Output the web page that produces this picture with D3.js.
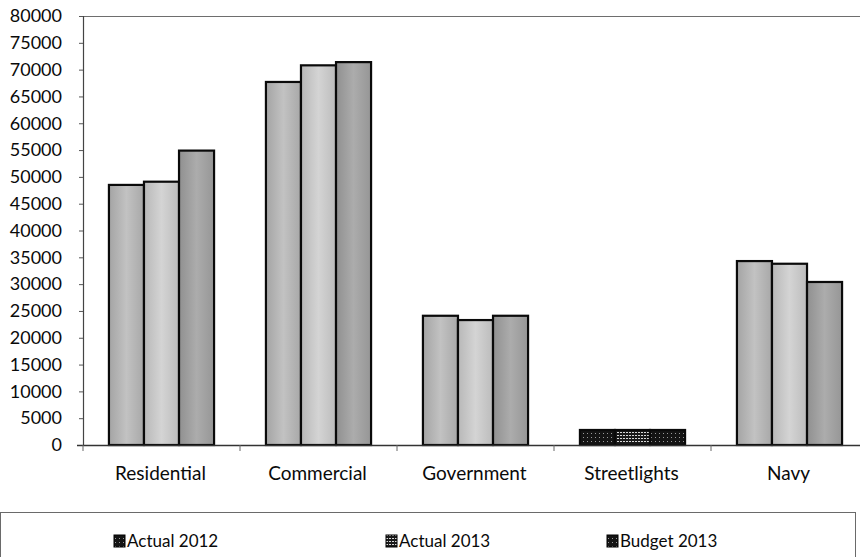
<!DOCTYPE html>
<html>
<head>
<meta charset="utf-8">
<script src="https://cdn.jsdelivr.net/npm/d3@7"></script>
<style>
  html, body { margin: 0; padding: 0; background: #fff; }
  svg { display: block; font-family: Lato, "Open Sans", sans-serif; }
</style>
</head>
<body>
<svg id="chart" width="860" height="557"></svg>
<script>
// Electricity sales by customer class
const categories = ["Residential", "Commercial", "Government", "Streetlights", "Navy"];
const seriesNames = ["Actual 2012", "Actual 2013", "Budget 2013"];
const actual2012 = [48500, 67700, 24100, 2800, 34300];
const actual2013 = [49100, 70800, 23300, 2800, 33800];
const budget2013 = [54900, 71400, 24100, 2800, 30400];
const yTicks = [0, 5000, 10000, 15000, 20000, 25000, 30000, 35000, 40000,
                45000, 50000, 55000, 60000, 65000, 70000, 75000, 80000];

const seriesValues = [actual2012, actual2013, budget2013];

const svg = d3.select("#chart");
const plot = { left: 83, right: 868, top: 16, bottom: 445 };
const fontFamily = "Lato, 'Open Sans', sans-serif";

const defs = svg.append("defs");
// soft horizontal shading for each series
const shades = [
  ["#a4a4a4", "#c2c2c2", "#a8a8a8"],
  ["#b8b8b8", "#d4d4d4", "#bcbcbc"],
  ["#909090", "#acacac", "#969696"]
];
shades.forEach((s, i) => {
  const g = defs.append("linearGradient").attr("id", "grad" + i)
    .attr("x1", "0").attr("x2", "1").attr("y1", "0").attr("y2", "0");
  g.append("stop").attr("offset", "0%").attr("stop-color", s[0]);
  g.append("stop").attr("offset", "50%").attr("stop-color", s[1]);
  g.append("stop").attr("offset", "100%").attr("stop-color", s[2]);
});
// dark dotted texture for the small streetlight bars and legend keys
const pat = defs.append("pattern").attr("id", "darkDots")
  .attr("width", 4).attr("height", 4).attr("patternUnits", "userSpaceOnUse");
pat.append("rect").attr("width", 4).attr("height", 4).attr("fill", "#141414");
pat.append("rect").attr("x", 1).attr("y", 1).attr("width", 1).attr("height", 1).attr("fill", "#9a9a9a");
const pat2 = defs.append("pattern").attr("id", "lightDots")
  .attr("width", 3).attr("height", 3).attr("patternUnits", "userSpaceOnUse");
pat2.append("rect").attr("width", 3).attr("height", 3).attr("fill", "#1a1a1a");
pat2.append("rect").attr("x", 0).attr("y", 0).attr("width", 2).attr("height", 1).attr("fill", "#d8d8d8");

const x0 = d3.scaleBand().domain(categories).range([plot.left, plot.right]).padding(0);
const x1 = d3.scaleBand().domain(seriesNames).range([0, x0.bandwidth()])
  .paddingInner(0).paddingOuter(0.74);
const y = d3.scaleLinear().domain([0, 80000]).range([plot.bottom, plot.top]);

// plot area top border
svg.append("line")
  .attr("x1", plot.left).attr("x2", 860)
  .attr("y1", y(80000) + 0.5).attr("y2", y(80000) + 0.5)
  .attr("stroke", "#6e6e6e").attr("stroke-width", 1.2);

// bars
const groups = svg.append("g").selectAll("g")
  .data(categories).join("g")
  .attr("transform", d => `translate(${x0(d)},0)`);

groups.selectAll("rect")
  .data((c, ci) => seriesNames.map((s, si) => ({ c, s, si, v: seriesValues[si][ci] })))
  .join("rect")
  .attr("x", d => x1(d.s))
  .attr("width", x1.bandwidth())
  .attr("y", d => y(d.v))
  .attr("height", d => y(0) - y(d.v))
  .attr("fill", d => d.c === "Streetlights"
    ? (d.si === 1 ? "url(#lightDots)" : "url(#darkDots)")
    : `url(#grad${d.si})`)
  .attr("stroke", "#0a0a0a")
  .attr("stroke-width", 2.2);

// y axis
const yAxis = d3.axisLeft(y).tickValues(yTicks).tickSize(4).tickPadding(17)
  .tickFormat(d3.format("d"));
const gy = svg.append("g").attr("transform", `translate(${plot.left},0)`).call(yAxis);
gy.select(".domain").attr("stroke", "#444").attr("stroke-width", 1.2);
gy.selectAll(".tick line").attr("stroke", "#555");
gy.selectAll("text").attr("font-size", 18).attr("fill", "#0a0a0a")
  .attr("font-family", fontFamily);

// x axis with ticks on category boundaries
const gx = svg.append("g").attr("transform", `translate(0,${plot.bottom})`);
gx.append("line").attr("x1", plot.left - 6).attr("x2", 860)
  .attr("y1", 0.5).attr("y2", 0.5).attr("stroke", "#333").attr("stroke-width", 1.3);
gx.selectAll(".bound").data(categories).join("line")
  .attr("class", "bound")
  .attr("x1", d => x0(d)).attr("x2", d => x0(d))
  .attr("y1", 0).attr("y2", 6).attr("stroke", "#666");
gx.selectAll(".cat").data(categories).join("text")
  .attr("class", "cat")
  .attr("x", d => x0(d) + x0.bandwidth() / 2 - 1)
  .attr("y", 35)
  .attr("text-anchor", "middle")
  .attr("font-size", 19).attr("fill", "#0a0a0a")
  .text(d => d);

// legend
const legend = svg.append("g");
legend.append("rect")
  .attr("x", 0.5).attr("y", 512.5).attr("width", 855).attr("height", 60)
  .attr("fill", "none").attr("stroke", "#6a6a6a").attr("stroke-width", 1);
const legendX = [114, 386, 607];
const li = legend.selectAll(".item").data(seriesNames).join("g")
  .attr("class", "item")
  .attr("transform", (d, i) => `translate(${legendX[i]},541)`);
li.append("rect").attr("x", 0).attr("y", -6).attr("width", 11).attr("height", 12)
  .attr("fill", (d, i) => i === 1 ? "url(#lightDots)" : "url(#darkDots)")
  .attr("stroke", "#000").attr("stroke-width", 1);
li.append("text").attr("x", 13).attr("y", 6)
  .attr("font-size", 17).attr("fill", "#0a0a0a")
  .text(d => d);
</script>
</body>
</html>
